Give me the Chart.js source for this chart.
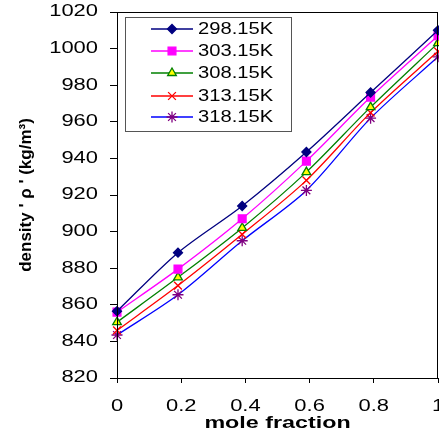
<!DOCTYPE html>
<html lang="en">
<head>
    <meta charset="UTF-8">
    <title>Density Chart</title>
    <style>
        html, body { margin: 0; padding: 0; background: #fff; }
        #wrap { width: 439px; height: 435px; }
    </style>
</head>
<body>
<div id="wrap">
    <canvas id="densityChart" width="439" height="435"></canvas>
</div>

<script src="https://cdn.jsdelivr.net/npm/chart.js"></script>

<script>
    // mole fraction values (x)
    const moleFraction = [0, 0.19, 0.39, 0.59, 0.79, 1];

    // density for each temperature
    const temps = ['298.15K', '303.15K', '308.15K', '313.15K', '318.15K'];
    const d298 = [856.5, 888.5, 914, 943.5, 976, 1010];
    const d303 = [856, 879.5, 907, 938.5, 973.5, 1007];
    const d308 = [850.5, 875, 902, 932.5, 968, 1003];
    const d313 = [846, 870.5, 898.5, 928, 965, 998.5];
    const d318 = [843.5, 865.5, 895, 922.5, 962, 995.5];

    const yTicks = [820, 840, 860, 880, 900, 920, 940, 960, 980, 1000, 1020];
    const xTicks = [0, 0.2, 0.4, 0.6, 0.8, 1];

    const FONT = "'Liberation Sans', Arial, sans-serif";

    // the original picture has its text stretched sideways
    let stretch = 1;

    function pts(vals) {
        return vals.map((v, i) => ({ x: moleFraction[i], y: v }));
    }

    const styles = [
        { line: '#000080', fill: '#000080', edge: '#000080', shape: 'rectRot', r: 4.5 },
        { line: '#FF00FF', fill: '#FF00FF', edge: '#FF00FF', shape: 'rect', r: 5.5 },
        { line: '#008000', fill: '#FFFF00', edge: '#008000', shape: 'triangle', r: 5 },
        { line: '#FF0000', fill: '#FF0000', edge: '#FF0000', shape: 'crossRot', r: 5.5 },
        { line: '#0000FF', fill: '#800080', edge: '#800080', shape: 'star', r: 5.5 }
    ];
    const series = [d298, d303, d308, d313, d318];

    const datasets = series.map((s, i) => ({
        label: temps[i],
        data: pts(s),
        borderColor: styles[i].line,
        borderWidth: 1.3,
        tension: 0.3,
        pointStyle: styles[i].shape,
        pointRadius: styles[i].r,
        pointBackgroundColor: styles[i].fill,
        pointBorderColor: styles[i].edge,
        pointBorderWidth: 1.3,
        clip: false
    }));

    const noPad = () => ({ left: 0, top: 0, right: 0, bottom: 0 });

    // stretched text + frame + legend + y title
    const decor = {
        id: 'decor',
        beforeInit(chart) {
            const c = chart.ctx;
            const orig = c.fillText;
            c.fillText = function (text, x, y, maxWidth) {
                if (stretch === 1) return orig.call(this, text, x, y);
                this.save();
                this.translate(x, y);
                this.scale(stretch, 1);
                orig.call(this, text, 0, 0);
                this.restore();
            };
        },
        beforeDraw() {
            stretch = 1.37;
        },
        afterDraw(chart) {
            const ctx = chart.ctx;
            const a = chart.chartArea;
            ctx.save();
            ctx.strokeStyle = '#000';
            ctx.lineWidth = 1;
            ctx.strokeRect(a.left + 0.5, a.top + 0.5, a.right - a.left - 1, a.bottom - a.top);

            // legend box
            ctx.strokeStyle = '#555';
            ctx.strokeRect(125.5, 17.5, 166, 114);
            const rows = [29, 51, 73, 96, 117];
            ctx.font = '16px ' + FONT;
            ctx.textBaseline = 'middle';
            ctx.textAlign = 'left';
            stretch = 1.26;
            chart.data.datasets.forEach((ds, i) => {
                const y = rows[i];
                ctx.strokeStyle = ds.borderColor;
                ctx.lineWidth = 1.5;
                ctx.beginPath();
                ctx.moveTo(151, y);
                ctx.lineTo(193, y);
                ctx.stroke();
                ctx.fillStyle = ds.pointBackgroundColor;
                ctx.strokeStyle = ds.pointBorderColor;
                ctx.lineWidth = 1.3;
                Chart.helpers.drawPoint(ctx, { pointStyle: ds.pointStyle, radius: ds.pointRadius, borderWidth: 1.3 }, 172, y);
                ctx.fillStyle = '#000';
                ctx.fillText(ds.label, 198, y + 1);
            });

            // y axis title, centred on the axis
            stretch = 1;
            ctx.translate(26, (a.top + a.bottom) / 2);
            ctx.rotate(-Math.PI / 2);
            ctx.font = 'bold 17px ' + FONT;
            ctx.fillStyle = '#000';
            ctx.textAlign = 'center';
            ctx.textBaseline = 'middle';
            ctx.fillText("density ' ρ ' (kg/m³)", 0, 0);
            ctx.restore();
        }
    };

    const ctx = document.getElementById('densityChart').getContext('2d');
    const densityChart = new Chart(ctx, {
        type: 'line',
        data: { datasets: datasets },
        plugins: [decor],
        options: {
            responsive: false,
            animation: false,
            events: [],
            layout: { autoPadding: false, padding: { top: 12, right: 1, left: 0, bottom: 0 } },
            plugins: {
                legend: { display: false },
                tooltip: { enabled: false }
            },
            scales: {
                x: {
                    type: 'linear',
                    min: 0,
                    max: 1,
                    afterBuildTicks: s => { s.ticks = xTicks.map(v => ({ value: v })); },
                    afterFit: s => { s.height = 57; s.getPadding = noPad; },
                    border: { display: true, color: '#000', width: 1 },
                    grid: { drawOnChartArea: false, drawTicks: true, tickLength: 5, color: '#000' },
                    ticks: {
                        color: '#000',
                        padding: 14,
                        maxRotation: 0,
                        autoSkip: false,
                        font: { family: FONT, size: 16 },
                        callback: v => String(v)
                    },
                    title: {
                        display: true,
                        text: 'mole fraction',
                        color: '#000',
                        font: { family: FONT, size: 17, weight: 'bold' },
                        padding: { top: 0, bottom: 1 }
                    }
                },
                y: {
                    min: 820,
                    max: 1020,
                    afterBuildTicks: s => { s.ticks = yTicks.map(v => ({ value: v })); },
                    afterFit: s => { s.width = 117; s.getPadding = noPad; },
                    border: { display: true, color: '#000', width: 1 },
                    grid: { drawOnChartArea: false, drawTicks: true, tickLength: 7, color: '#000' },
                    ticks: {
                        color: '#000',
                        padding: 12,
                        autoSkip: false,
                        font: { family: FONT, size: 16 },
                        callback: v => String(v)
                    }
                }
            }
        }
    });
</script>
</body>
</html>
